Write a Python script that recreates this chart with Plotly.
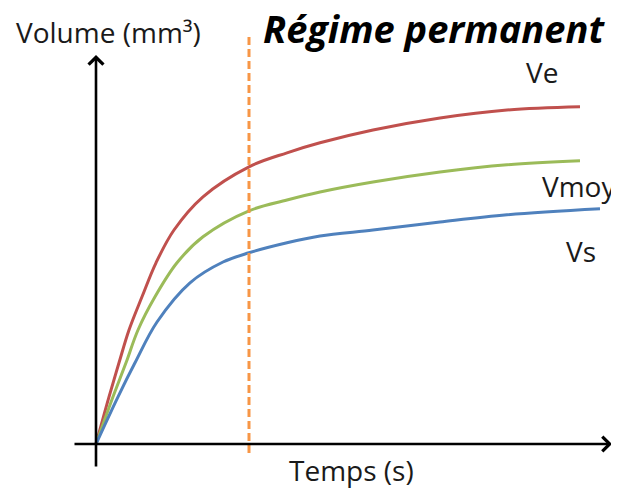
import plotly.graph_objects as go

# ---- data (arbitrary units) ----
t_ve = [0, 0.26, 0.46, 0.66, 0.92, 1.2, 1.56, 2.14, 3.06, 3.82, 4.48, 5.54, 6.88, 8.22, 9.68]
ve = [0, 1.18, 2.03, 2.85, 3.68, 4.53, 5.35, 6.18, 6.93, 7.28, 7.53, 7.85, 8.15, 8.35, 8.43]
t_vmoy = [0, 0.34, 0.6, 0.84, 1.18, 1.62, 2.14, 3.06, 3.82, 4.48, 5.54, 6.88, 8.22, 9.68]
vmoy = [0, 1.18, 2.03, 2.85, 3.68, 4.53, 5.18, 5.83, 6.1, 6.3, 6.55, 6.8, 6.98, 7.08]
t_vs = [0, 0.44, 0.78, 1.22, 1.88, 2.54, 3.06, 3.82, 4.48, 5.54, 6.88, 8.22, 10.08]
vs = [0, 1.18, 2.03, 3.05, 4.03, 4.55, 4.78, 5.03, 5.2, 5.35, 5.55, 5.73, 5.88]
t_regime = 3.06

series_names = ["Ve", "Vmoy", "Vs"]
x_label = "Temps (s)"
y_label = "Volume (mm³)"
title_text = "Régime permanent"

W, H = 619, 493
PAGE = 8  # page body offset of the plot div
OX, OY, SX, SY = 96, 444, 50.0, 40.0


def dx(px):  # screen px -> data x
    return (px - OX) / SX


def dy(py):  # screen py -> data y
    return (OY - py) / SY


def paper_x(px):
    return (px - PAGE) / W


def paper_y(py):
    return 1 - (py - PAGE) / H


fig = go.Figure()
colors = ["#C0504D", "#9BBB59", "#4F81BD"]
for name, xs, ys, c in [(series_names[0], t_ve, ve, colors[0]),
                        (series_names[1], t_vmoy, vmoy, colors[1]),
                        (series_names[2], t_vs, vs, colors[2])]:
    fig.add_trace(go.Scatter(x=xs, y=ys, mode="lines", name=name,
                             line=dict(color=c, width=3, shape="spline", smoothing=1.0),
                             showlegend=False, hoverinfo="skip"))

# dashed steady-state line
fig.add_shape(type="line", x0=t_regime, x1=t_regime, y0=dy(453), y1=dy(33),
              line=dict(color="#F79646", width=3, dash="8px,4px"), layer="above")

# axes with arrows
fig.add_annotation(x=dx(612), y=0, ax=dx(73), ay=0, xref="x", yref="y", axref="x", ayref="y",
                   showarrow=True, arrowhead=4, arrowsize=1.1, arrowwidth=2.6, arrowcolor="black", text="")
fig.add_annotation(x=0, y=dy(55), ax=0, ay=dy(468), xref="x", yref="y", axref="x", ayref="y",
                   showarrow=True, arrowhead=4, arrowsize=1.1, arrowwidth=2.6, arrowcolor="black", text="")

txt_font = dict(family="Open Sans", size=28, color="#1a1a1a")
labels = [(y_label, 108, 32), (x_label, 351, 470),
          (series_names[0], 542, 72), (series_names[1], 579, 186), (series_names[2], 581, 251)]
for text, px, py in labels:
    fig.add_annotation(x=paper_x(px), y=paper_y(py), xref="paper", yref="paper", text=text,
                       xanchor="center", yanchor="middle", showarrow=False, font=txt_font)
fig.add_annotation(x=paper_x(434), y=paper_y(28), xref="paper", yref="paper",
                   text="<b><i>" + title_text + "</i></b>", showarrow=False,
                   xanchor="center", yanchor="middle",
                   font=dict(family="Open Sans", size=38, color="black"))

fig.update_layout(width=W, height=H, margin=dict(l=0, r=0, t=0, b=0),
                  paper_bgcolor="white", plot_bgcolor="white")
fig.update_xaxes(range=[dx(PAGE), dx(W + PAGE)], visible=False)
fig.update_yaxes(range=[dy(H + PAGE), dy(PAGE)], visible=False)
fig.write_html("out.html")
